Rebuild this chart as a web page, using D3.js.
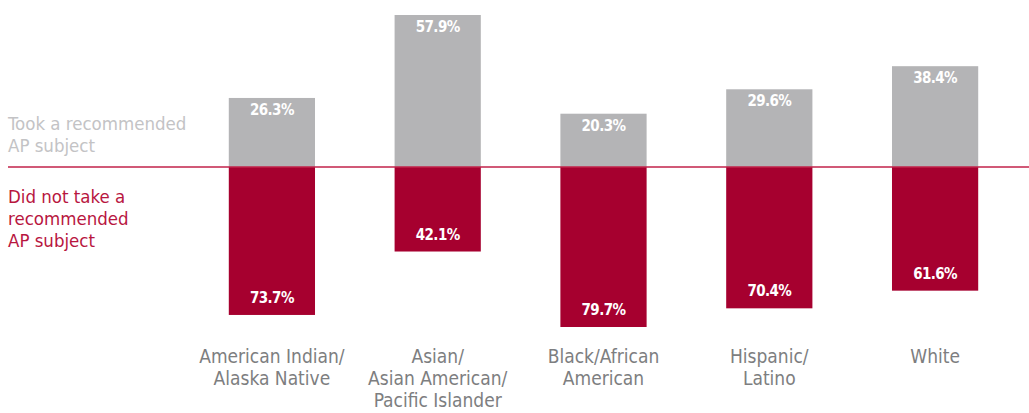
<!DOCTYPE html>
<html lang="en">
<head>
<meta charset="UTF-8">
<title>Recommended AP subject by race/ethnicity</title>
<script src="https://cdn.jsdelivr.net/npm/d3@7"></script>
<style>
  body { margin: 0; background: #fff; }
  text { font-family: "Liberation Sans Narrow", "DejaVu Sans Condensed", sans-serif; }
</style>
</head>
<body>
<div id="chart"></div>
<script>
// data
const groups = ["American Indian/\nAlaska Native", "Asian/\nAsian American/\nPacific Islander",
                "Black/African\nAmerican", "Hispanic/\nLatino", "White"];
const took = [26.3, 57.9, 20.3, 29.6, 38.4];
const notTook = [73.7, 42.1, 79.7, 70.4, 61.6];
const tookLabel = ["Took a recommended", "AP subject"];
const notTookLabel = ["Did not take a", "recommended", "AP subject"];

const width = 1029, height = 413;
const baseY = 167;
const grey = "#b4b4b6", red = "#a6002f";

const svg = d3.select("#chart").append("svg")
  .attr("width", width).attr("height", height);

const x = d3.scaleBand().domain(d3.range(groups.length))
  .range([189, 1018]).paddingInner(0.48).paddingOuter(0.24);

// top and bottom halves are drawn on different scales in the original
const yUp = d3.scaleLinear().domain([0, 57.9]).range([baseY, 15]);
const yDown = d3.scaleLinear().domain([0, 79.7]).range([baseY, 327]);

const g = svg.append("g");

g.selectAll("rect.took").data(took).join("rect")
  .attr("class", "took")
  .attr("x", (d, i) => x(i)).attr("width", x.bandwidth())
  .attr("y", d => yUp(d)).attr("height", d => baseY - yUp(d))
  .attr("fill", grey);

g.selectAll("rect.not").data(notTook).join("rect")
  .attr("class", "not")
  .attr("x", (d, i) => x(i)).attr("width", x.bandwidth())
  .attr("y", baseY).attr("height", d => yDown(d) - baseY)
  .attr("fill", red);

// baseline
svg.append("line")
  .attr("x1", 8).attr("x2", width).attr("y1", baseY).attr("y2", baseY)
  .attr("stroke", "#c2224a").attr("stroke-width", 1.5);

// value labels
g.selectAll("text.tv").data(took).join("text")
  .attr("class", "tv")
  .attr("x", (d, i) => x(i) + x.bandwidth() / 2)
  .attr("y", d => yUp(d) + 17)
  .attr("text-anchor", "middle").attr("fill", "#fff")
  .attr("font-size", 15).attr("font-weight", "bold")
  .attr("letter-spacing", -0.6)
  .text(d => d.toFixed(1) + "%");

g.selectAll("text.nv").data(notTook).join("text")
  .attr("class", "nv")
  .attr("x", (d, i) => x(i) + x.bandwidth() / 2)
  .attr("y", d => yDown(d) - 12)
  .attr("text-anchor", "middle").attr("fill", "#fff")
  .attr("font-size", 15).attr("font-weight", "bold")
  .attr("letter-spacing", -0.6)
  .text(d => d.toFixed(1) + "%");

// category labels
groups.forEach((name, i) => {
  const t = svg.append("text")
    .attr("x", x(i) + x.bandwidth() / 2).attr("y", 363)
    .attr("text-anchor", "middle").attr("fill", "#7d7e80")
    .attr("font-size", 19);
  name.split("\n").forEach((line, j) => {
    t.append("tspan").attr("x", x(i) + x.bandwidth() / 2)
      .attr("dy", j === 0 ? 0 : 22).text(line);
  });
});

// side legend labels
tookLabel.forEach((s, j) => {
  svg.append("text").attr("x", 8).attr("y", 130 + j * 22)
    .attr("fill", "#c3c3c5").attr("font-size", 18.5).text(s);
});
notTookLabel.forEach((s, j) => {
  svg.append("text").attr("x", 8).attr("y", 203 + j * 22)
    .attr("fill", "#b8163f").attr("font-size", 18.5).text(s);
});
</script>
</body>
</html>
